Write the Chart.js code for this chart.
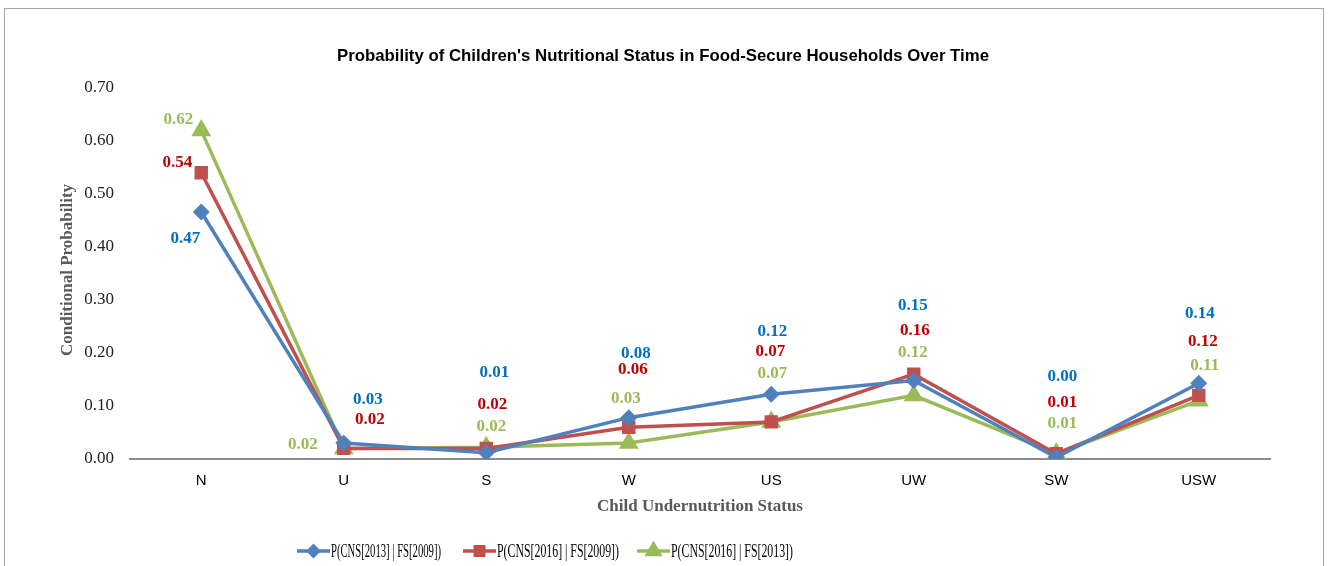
<!DOCTYPE html>
<html>
<head>
<meta charset="utf-8">
<script src="https://cdn.jsdelivr.net/npm/chart.js@4/dist/chart.umd.min.js"></script>
<style>
  html, body { margin: 0; padding: 0; background: #fff; }
  #wrap { position: relative; width: 1328px; height: 566px; }
</style>
</head>
<body>
<div id="wrap"><canvas id="myChart" width="1328" height="566"></canvas></div>
<script>
// categories and series
const categories = ['N', 'U', 'S', 'W', 'US', 'UW', 'SW', 'USW'];
const cns2013fs2009 = [0.466, 0.03, 0.012, 0.078, 0.122, 0.148, 0.003, 0.143];
const cns2016fs2009 = [0.54, 0.02, 0.02, 0.06, 0.07, 0.16, 0.01, 0.12];
const cns2016fs2013 = [0.62, 0.02, 0.022, 0.03, 0.07, 0.12, 0.01, 0.11];
const seriesNames = ['P(CNS[2013] | FS[2009])', 'P(CNS[2016] | FS[2009])', 'P(CNS[2016] | FS[2013])'];
const yTicks = [0, 0.1, 0.2, 0.3, 0.4, 0.5, 0.6, 0.7];

// where excel had the value labels dragged to (pixel offsets from the point)
const labelOffsets = [
  [[-16, 27], [24, -43], [8, -80], [7, -64], [1, -63], [-1, -75], [6, -81], [1, -70]],
  [[-24, -10], [26, -29], [6, -44], [4, -58], [-1, -70], [1, -44], [6, -51], [4, -54]],
  [[-23, -11], [-41, -4], [5, -21], [-3, -44], [1, -48], [-1, -43], [6, -30], [6, -35]]
];
const lineColors = ['#4F81BD', '#C0504D', '#9BBB59'];
const labelColors = ['#0070C0', '#C00000', '#9BBB59'];
const markers = ['rectRot', 'rect', 'triangle'];
const markerSizes = [6, 7, 8];

const chartCanvas = document.getElementById('myChart');

const decoPlugin = {
  id: 'deco',
  beforeDraw(chart) {
    const ctx = chart.ctx;
    ctx.save();
    ctx.fillStyle = '#fff';
    ctx.fillRect(0, 0, chart.width, chart.height);
    ctx.strokeStyle = '#a6a6a6';
    ctx.lineWidth = 1;
    ctx.strokeRect(4.5, 8.5, 1319, 600);
    ctx.restore();
  },
  afterDatasetsDraw(chart) {
    const ctx = chart.ctx;
    ctx.save();
    ctx.textAlign = 'center';
    ctx.textBaseline = 'middle';
    ctx.font = 'bold 17px "Liberation Serif"';
    chart.data.datasets.forEach((ds, d) => {
      const meta = chart.getDatasetMeta(d);
      meta.data.forEach((pt, i) => {
        const off = labelOffsets[d][i];
        ctx.fillStyle = labelColors[d];
        ctx.fillText(ds.data[i].toFixed(2), pt.x + off[0], pt.y + off[1]);
      });
    });
    ctx.restore();
  },
  afterDraw(chart) {
    const ctx = chart.ctx;
    const area = chart.chartArea;
    ctx.save();
    // title
    ctx.fillStyle = '#000';
    ctx.textAlign = 'center';
    ctx.textBaseline = 'middle';
    ctx.font = 'bold 17px "Liberation Sans"';
    ctx.fillText("Probability of Children's Nutritional Status in Food-Secure Households Over Time", 663, 56, 652);
    // axis titles
    ctx.fillStyle = '#595959';
    ctx.font = 'bold 17px "Liberation Serif"';
    ctx.fillText('Child Undernutrition Status', (area.left + area.right) / 2, 507, 215);
    ctx.save();
    ctx.translate(68, 270);
    ctx.rotate(-Math.PI / 2);
    ctx.fillText('Conditional Probability', 0, 0, 186);
    ctx.restore();
    // legend
    const legendX = [297, 463, 637];
    const legendY = 551;
    ctx.textAlign = 'left';
    ctx.font = '19px "Liberation Serif"';
    seriesNames.forEach((name, d) => {
      const x = legendX[d];
      ctx.strokeStyle = lineColors[d];
      ctx.lineWidth = 3.5;
      ctx.beginPath();
      ctx.moveTo(x, legendY);
      ctx.lineTo(x + 33, legendY);
      ctx.stroke();
      ctx.fillStyle = lineColors[d];
      Chart.helpers.drawPoint(ctx, {
        pointStyle: markers[d],
        radius: markerSizes[d] - 1,
        rotation: 0,
        borderWidth: 1
      }, x + 16.5, legendY);
      ctx.fillStyle = '#000';
      ctx.fillText(name, x + 34, legendY + 1, [110, 122, 122][d]);
    });
    ctx.restore();
  }
};

const info = {
  labels: categories,
  datasets: [cns2013fs2009, cns2016fs2009, cns2016fs2013].map((vals, d) => ({
    label: seriesNames[d],
    data: vals,
    borderColor: lineColors[d],
    backgroundColor: lineColors[d],
    borderWidth: 3.5,
    pointStyle: markers[d],
    pointRadius: markerSizes[d],
    pointBorderColor: lineColors[d],
    pointBackgroundColor: lineColors[d],
    tension: 0
  }))
};

const config = {
  type: 'line',
  data: info,
  options: {
    responsive: false,
    animation: false,
    layout: { padding: { top: 88, left: 0, right: 58, bottom: 0 } },
    plugins: {
      legend: { display: false },
      title: { display: false },
      tooltip: { enabled: false }
    },
    scales: {
      x: {
        offset: true,
        grid: { display: false, drawTicks: false },
        border: { display: true, color: '#8c8c8c', width: 2 },
        ticks: {
          padding: 13,
          color: '#000',
          font: { family: '"Liberation Sans"', size: 15 }
        },
        afterFit(scale) { scale.height = 107; }
      },
      y: {
        min: 0,
        max: 0.7,
        grid: { display: false, drawTicks: false },
        border: { display: false },
        afterBuildTicks(scale) { scale.ticks = yTicks.map(v => ({ value: v })); },
        ticks: {
          padding: 16,
          color: '#222',
          font: { family: '"Liberation Serif"', size: 17 },
          callback: v => Number(v).toFixed(2)
        },
        afterFit(scale) { scale.width = 130; }
      }
    }
  },
  plugins: [decoPlugin]
};

let chart = new Chart(chartCanvas, config);
</script>
</body>
</html>
